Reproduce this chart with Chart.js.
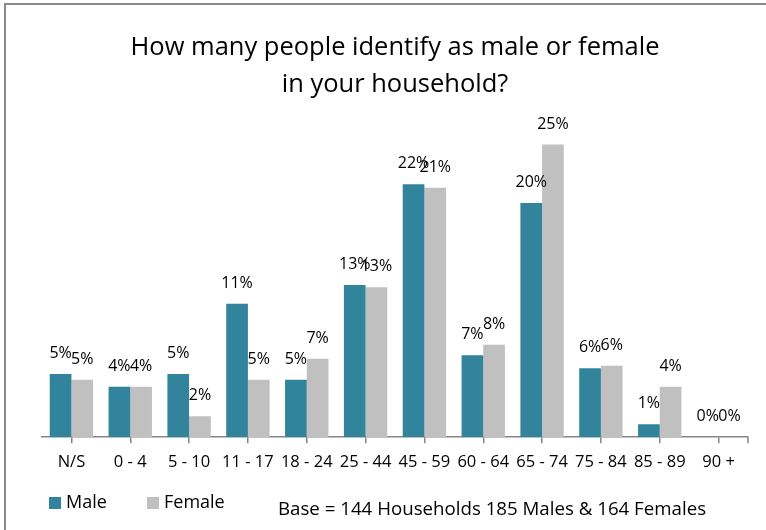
<!DOCTYPE html>
<html>
<head>
<meta charset="utf-8">
<title>Household gender</title>
<script src="https://cdn.jsdelivr.net/npm/chart.js@4.4.1/dist/chart.umd.min.js"></script>
<style>
  html, body { margin: 0; padding: 0; background: #fff; }
  #wrap { position: relative; width: 766px; height: 530px; overflow: hidden; }
  #frame { position: absolute; left: 4px; top: 3px; width: 800px; height: 600px; border-left: 2px solid #898989; border-top: 2px solid #898989; }
  #chart { position: absolute; left: 0; top: 0; }
</style>
</head>
<body>
<div id="wrap">
  <div id="frame"></div>
  <canvas id="chart" width="766" height="530"></canvas>
</div>
<script>
const ageGroups = ['N/S', '0 - 4', '5 - 10', '11 - 17', '18 - 24', '25 - 44', '45 - 59', '60 - 64', '65 - 74', '75 - 84', '85 - 89', '90 +'];
// percent of 185 males / 164 females
const maleValues = [5.4, 4.3, 5.4, 11.4, 4.9, 13.0, 21.6, 7.0, 20.0, 5.9, 1.1, 0];
const femaleValues = [4.9, 4.3, 1.8, 4.9, 6.7, 12.8, 21.3, 7.9, 25.0, 6.1, 4.3, 0];
const titleLines = ['How many people identify as male or female', 'in your household?'];
const baseNote = 'Base = 144 Households 185 Males & 164 Females';

const FONT = '"Open Sans", sans-serif';
const MALE_COLOR = '#31849B';
const FEMALE_COLOR = '#C0C0C0';
const AXIS_COLOR = '#868686';

// value labels above each bar
const barLabels = {
  id: 'barLabels',
  afterDatasetsDraw(chart) {
    const ctx = chart.ctx;
    ctx.save();
    ctx.font = '16px ' + FONT;
    ctx.fillStyle = '#000';
    ctx.textAlign = 'center';
    ctx.textBaseline = 'alphabetic';
    chart.data.datasets.forEach((ds, i) => {
      chart.getDatasetMeta(i).data.forEach((bar, j) => {
        ctx.fillText(Math.round(ds.data[j]) + '%', bar.x, bar.y - 16);
      });
    });
    ctx.restore();
  }
};

// end tick, legend and base note at the bottom
const bottomBits = {
  id: 'bottomBits',
  afterDraw(chart) {
    const ctx = chart.ctx;
    const area = chart.chartArea;
    ctx.save();
    ctx.strokeStyle = AXIS_COLOR;
    ctx.lineWidth = 1.5;
    ctx.beginPath();
    ctx.moveTo(area.right, area.bottom);
    ctx.lineTo(area.right, area.bottom + 6);
    ctx.stroke();

    ctx.font = '18px ' + FONT;
    ctx.textBaseline = 'middle';
    ctx.fillStyle = '#000';
    let x = 49;
    const y = 503;
    chart.data.datasets.forEach(ds => {
      ctx.fillStyle = ds.backgroundColor;
      ctx.fillRect(x, y - 6, 12, 12);
      ctx.fillStyle = '#000';
      ctx.fillText(ds.label, x + 17, y);
      x += 98;
    });

    ctx.font = '18.7px ' + FONT;
    ctx.textBaseline = 'alphabetic';
    ctx.fillText(baseNote, 278, 515);
    ctx.restore();
  }
};

new Chart(document.getElementById('chart'), {
  type: 'bar',
  data: {
    labels: ageGroups,
    datasets: [
      { label: 'Male', data: maleValues, backgroundColor: MALE_COLOR },
      { label: 'Female', data: femaleValues, backgroundColor: FEMALE_COLOR }
    ]
  },
  options: {
    responsive: false,
    animation: false,
    layout: { padding: { left: 42, right: 18, top: 0, bottom: 49 } },
    datasets: { bar: { categoryPercentage: 0.737, barPercentage: 1 } },
    plugins: {
      legend: { display: false },
      tooltip: { enabled: false },
      title: {
        display: true,
        text: titleLines,
        color: '#000',
        font: { family: FONT, size: 25.5, weight: 'normal', lineHeight: 1.42 },
        padding: { top: 30, bottom: 7 }
      }
    },
    scales: {
      x: {
        offset: true,
        grid: { display: true, drawOnChartArea: false, drawTicks: true, tickLength: 6, color: AXIS_COLOR, lineWidth: 1.5, offset: false },
        border: { display: true, color: AXIS_COLOR, width: 1.5 },
        ticks: { color: '#000', font: { family: FONT, size: 16.5 }, padding: 9, maxRotation: 0, autoSkip: false }
      },
      y: { display: false, min: 0, max: 28 }
    }
  },
  plugins: [barLabels, bottomBits]
});
</script>
</body>
</html>
